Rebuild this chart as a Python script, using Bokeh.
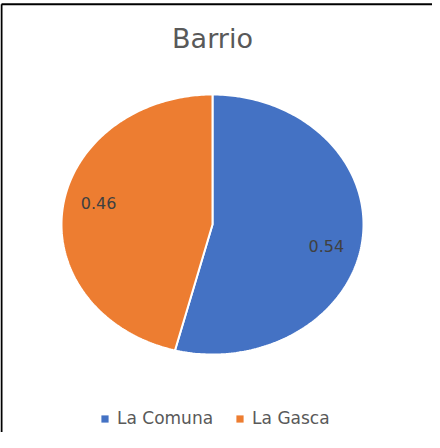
import numpy as np
from bokeh.plotting import figure
from bokeh.models import Range1d, ColumnDataSource, Label, Legend, LegendItem
from bokeh.core.properties import value
from bokeh.embed import file_html
from bokeh.resources import INLINE

# ---- data ----
title_text = "Barrio"
categories = ["La Comuna", "La Gasca"]
shares = [0.54, 0.46]
colors = ["#4472C4", "#ED7D31"]

# ---- layout (pixels inside the figure) ----
W, H = 432, 432
cx, cy = 212, 224
rx, ry = 151, 130
label_kx, label_ky = 0.76, 1.35
FONT = "DejaVu Sans"

p = figure(width=W, height=H, output_backend="svg", toolbar_location=None,
           x_range=Range1d(0, W), y_range=Range1d(H, 0),
           min_border=0, x_axis_type=None, y_axis_type=None)
p.outline_line_color = None
p.grid.visible = False
p.background_fill_color = "white"
p.border_fill_color = "white"

# border (top and left edges of the chart box)
p.segment(x0=[1, 1], y0=[3.8, 3.8], x1=[W, 1], y1=[3.8, H],
          line_color="black", line_width=2)

# pie slices as elliptical wedges
frac = np.array(shares) / np.sum(shares)
cum = np.concatenate([[0.0], np.cumsum(frac)])
xs, ys, lx, ly = [], [], [], []
for i in range(len(frac)):
    a0, a1 = cum[i] * 2 * np.pi, cum[i + 1] * 2 * np.pi
    t = np.linspace(a0, a1, 200)
    xs.append(list(np.concatenate([[cx], cx + rx * np.sin(t)])))
    ys.append(list(np.concatenate([[cy], cy - ry * np.cos(t)])))
    m = (a0 + a1) / 2
    lx.append(cx + label_kx * rx * np.sin(m))
    ly.append(cy - label_ky * ry * np.cos(m))

src = ColumnDataSource(dict(xs=xs, ys=ys, color=colors, cat=categories,
                            lx=lx, ly=ly, txt=[f"{v:.2f}" for v in shares]))
p.patches("xs", "ys", source=src, fill_color="color",
          line_color="white", line_width=2)

p.text("lx", "ly", text="txt", source=src, text_align="center",
       text_baseline="middle", text_font=value(FONT),
       text_font_size="16px", text_color="#404040")

p.add_layout(Label(x=cx, y=38, text=title_text, text_align="center",
                   text_baseline="alphabetic", text_font=FONT,
                   text_font_size="27px", text_color="#595959"))

# legend swatches (renderers with no drawable geometry, used only for the legend)
nan = float("nan")
items = []
for c, col in zip(categories, colors):
    r = p.quad(left=[nan], right=[nan], top=[nan], bottom=[nan],
               fill_color=col, line_color=None)
    items.append(LegendItem(label=c, renderers=[r]))
legend = Legend(items=items, orientation="horizontal", location=(100, 4),
                glyph_width=9, glyph_height=9, label_standoff=8, spacing=22,
                padding=0, margin=0, border_line_color=None,
                background_fill_alpha=0, label_text_font=FONT,
                label_text_font_size="17px", label_text_color="#595959")
p.add_layout(legend, "center")

open("out.html", "w").write(file_html(p, INLINE))
